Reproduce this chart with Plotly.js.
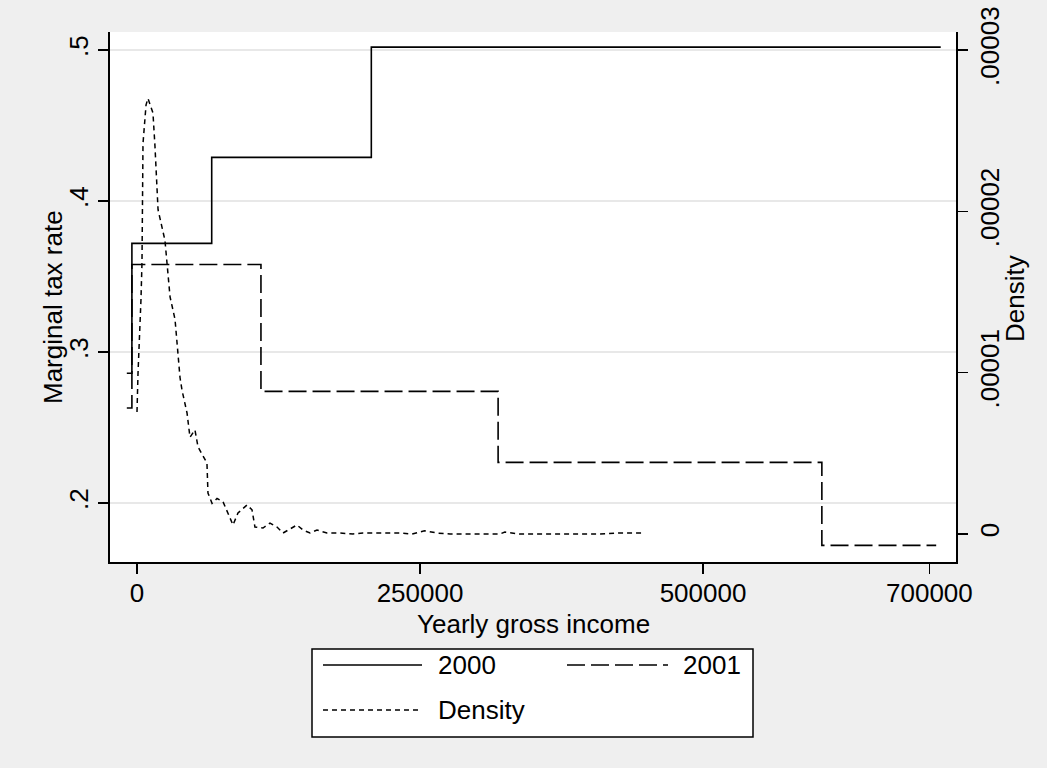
<!DOCTYPE html>
<html>
<head>
<meta charset="utf-8">
<script src="https://cdn.plot.ly/plotly-3.0.1.min.js"></script>
<style>
html,body{margin:0;padding:0;background:#efefef;}
#chart{width:1047px;height:768px;}
</style>
</head>
<body>
<div id="chart"></div>
<script>
// Marginal tax rate step schedules (income breakpoints, rate after breakpoint)
const income2000 = [-9000, -4500, 66000, 207000, 710000];
const rate2000   = [0.286, 0.372, 0.429, 0.502, 0.502];
const income2001 = [-9000, -4500, 109500, 319000, 605000, 706000];
const rate2001   = [0.263, 0.358, 0.274, 0.227, 0.172, 0.172];

// Kernel density of yearly gross income (in units of 1e-5)
const densIncome = [0, 900, 3500, 4400, 5300, 8000, 9700, 14100, 15900, 18600, 24700, 29200, 33600, 38000,
  39800, 44200, 46800, 51200, 53900, 61800, 62700, 66300, 70700, 76000, 84800, 89200, 97200, 101600,
  104200, 111300, 117500, 123700, 129000, 141300, 146600, 152800, 159000, 167800, 179300, 190800,
  199600, 214700, 232300, 243000, 254000, 265000, 276500, 320700, 325000, 338000, 409000, 426700, 447000];
const densValue = [0.756, 0.998, 1.45, 1.68, 2.42, 2.66, 2.70, 2.61, 2.40, 2.01, 1.82, 1.47, 1.33, 0.97,
  0.89, 0.75, 0.60, 0.645, 0.54, 0.44, 0.254, 0.19, 0.22, 0.20, 0.056, 0.13, 0.18, 0.15,
  0.043, 0.037, 0.068, 0.043, 0.006, 0.056, 0.025, 0.006, 0.025, 0.006, 0.006, 0.0,
  0.006, 0.006, 0.006, 0.0, 0.02, 0.006, 0.0, 0.0, 0.012, 0.0, 0.0, 0.006, 0.006];
const densScale = 1e-5;

const xTicks = [0, 250000, 500000, 700000];
const xTickText = ['0', '250000', '500000', '700000'];
const yTicks = [0.2, 0.3, 0.4, 0.5];
const yTickText = ['.2', '.3', '.4', '.5'];
const y2Ticks = [0, 0.00001, 0.00002, 0.00003];
const y2TickText = ['0', '.00001', '.00002', '.00003'];

const seriesNames = ['2000', '2001', 'Density'];

const FONT = 'Liberation Sans, Arial, sans-serif';
const FS = 26;

const traces = [
  {x: income2000, y: rate2000, name: seriesNames[0], mode: 'lines', line: {shape: 'hv', color: '#000', width: 1.6}, yaxis: 'y', showlegend: false},
  {x: income2001, y: rate2001, name: seriesNames[1], mode: 'lines', line: {shape: 'hv', color: '#000', width: 1.6, dash: '18px,6px'}, yaxis: 'y', showlegend: false},
  {x: densIncome, y: densValue.map(v => v * densScale), name: seriesNames[2], mode: 'lines', line: {color: '#000', width: 1.5, dash: '5px,4px'}, yaxis: 'y2', showlegend: false}
];

// manual legend (paper coordinates)
const L = 110, W = 846, B = 562, H = 530;
const px = v => (v - L) / W;
const py = v => (B - v) / H;
const shapes = [
  {type: 'rect', xref: 'paper', yref: 'paper', x0: px(312), x1: px(753), y0: py(737), y1: py(649), line: {color: '#000', width: 1.5}, fillcolor: '#fff'},
  {type: 'line', xref: 'paper', yref: 'paper', x0: px(323), x1: px(422), y0: py(665), y1: py(665), line: {color: '#000', width: 1.6}},
  {type: 'line', xref: 'paper', yref: 'paper', x0: px(567), x1: px(668), y0: py(665), y1: py(665), line: {color: '#000', width: 1.6, dash: '18px,6px'}},
  {type: 'line', xref: 'paper', yref: 'paper', x0: px(323), x1: px(422), y0: py(710), y1: py(710), line: {color: '#000', width: 1.5, dash: '5px,4px'}}
];
const annotations = [
  {xref: 'paper', yref: 'paper', x: px(436), y: py(665), text: seriesNames[0], showarrow: false, xanchor: 'left', yanchor: 'middle', font: {family: FONT, size: FS, color: '#000'}},
  {xref: 'paper', yref: 'paper', x: px(681), y: py(665), text: seriesNames[1], showarrow: false, xanchor: 'left', yanchor: 'middle', font: {family: FONT, size: FS, color: '#000'}},
  {xref: 'paper', yref: 'paper', x: px(436), y: py(710), text: seriesNames[2], showarrow: false, xanchor: 'left', yanchor: 'middle', font: {family: FONT, size: FS, color: '#000'}},
  {xref: 'paper', yref: 'paper', x: px(53), y: py(307), text: 'Marginal tax rate', textangle: -90, showarrow: false, xanchor: 'center', yanchor: 'middle', font: {family: FONT, size: FS, color: '#000'}},
  {xref: 'paper', yref: 'paper', x: px(1015), y: py(299), text: 'Density', textangle: -90, showarrow: false, xanchor: 'center', yanchor: 'middle', font: {family: FONT, size: FS, color: '#000'}},
  {xref: 'paper', yref: 'paper', x: px(533), y: py(624), text: 'Yearly gross income', showarrow: false, xanchor: 'center', yanchor: 'middle', font: {family: FONT, size: FS, color: '#000'}}
];

const layout = {
  width: 1047, height: 768,
  paper_bgcolor: '#efefef', plot_bgcolor: '#ffffff',
  margin: {l: 110, r: 91, t: 32, b: 206},
  font: {family: FONT, size: FS, color: '#000'},
  showlegend: false,
  xaxis: {
    range: [-23850, 723500], tickvals: xTicks, ticktext: xTickText,
    ticks: 'outside', ticklen: 10, tickwidth: 1.5, tickcolor: '#000', ticklabelstandoff: -3,
    showline: true, linecolor: '#000', linewidth: 2, showgrid: false, zeroline: false,
    tickfont: {family: FONT, size: FS}, automargin: false
  },
  yaxis: {
    range: [0.161, 0.512], tickvals: yTicks, ticktext: yTickText, tickangle: -90,
    ticks: 'outside', ticklen: 10, tickwidth: 1.5, tickcolor: '#000',
    showline: true, linecolor: '#000', linewidth: 2, showgrid: true, gridcolor: '#e8e8e8', gridwidth: 1.5, zeroline: false,
    tickfont: {family: FONT, size: FS}, automargin: false
  },
  yaxis2: {
    overlaying: 'y', side: 'right', anchor: 'x',
    range: [-0.1736e-5, 3.1116e-5], tickvals: y2Ticks, ticktext: y2TickText, tickangle: -90,
    ticks: 'outside', ticklen: 10, tickwidth: 1.5, tickcolor: '#000',
    showline: true, linecolor: '#000', linewidth: 2, showgrid: false, zeroline: false,
    tickfont: {family: FONT, size: FS}, automargin: false
  },
  shapes: shapes,
  annotations: annotations
};

Plotly.newPlot('chart', traces, layout, {displayModeBar: false, staticPlot: true});
</script>
</body>
</html>
